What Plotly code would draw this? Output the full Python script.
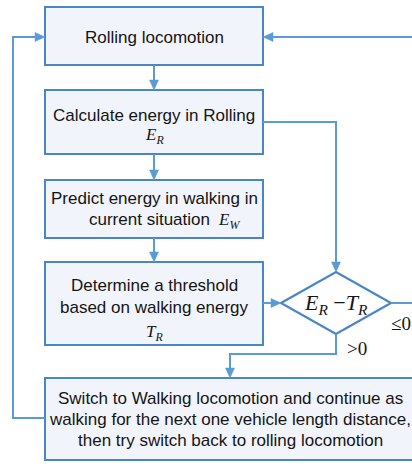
import plotly.graph_objects as go

W, H = 412, 464
LINE = "#5b9bd5"
BORDER = "#4a86c5"
FILL = "#f1f4fb"
SANS = "Liberation Sans, Arial, sans-serif"
SERIF = "Liberation Serif, Times New Roman, serif"

# Process boxes: (x0, y0, x1, y1)
box_rects = [
    (45, 7, 263, 65),
    (45, 90, 263, 154),
    (45, 180, 263, 238),
    (45, 262, 263, 345),
    (45, 378, 416, 460),
]
# Sans-serif text lines: (text, x, y)
sans_lines = [
    ("Rolling locomotion", 154, 37),
    ("Calculate energy in Rolling", 154, 115),
    ("Predict energy in walking in", 154, 198),
    ("current situation", 149, 219),
    ("Determine a threshold", 154, 285),
    ("based on walking energy", 154, 307),
    ("Switch to Walking locomotion and continue as", 230, 398),
    ("walking for the next one vehicle length distance,", 230, 419),
    ("then try switch back to rolling locomotion", 230, 440),
]
# Math symbols: (html, x, y, size, anchor)
math_labels = [
    ("<i>E</i><sub><i>R</i></sub>", 154, 136, 17, "center"),
    ("<i>E</i><sub><i>W</i></sub>", 229, 221, 17, "center"),
    ("<i>T</i><sub><i>R</i></sub>", 154, 333, 17, "center"),
    ("<i>E</i><sub><i>R</i></sub> \u2212<i>T</i><sub><i>R</i></sub>", 336, 304, 22, "center"),
    ("\u22640", 389, 323, 19, "left"),
    ("&gt;0", 345, 348, 19, "left"),
]
# Decision diamond: (cx, cy, half-width, half-height)
diamond = (336, 303, 55, 31)
# Connectors: polylines, arrow at last point if flag
connectors = [
    ([(154, 65), (154, 90)], True),
    ([(154, 154), (154, 180)], True),
    ([(154, 238), (154, 262)], True),
    ([(263, 122), (336, 122), (336, 272)], True),
    ([(263, 303), (281, 303)], True),
    ([(391, 303), (414, 303)], False),
    ([(414, 37), (263, 37)], True),
    ([(336, 334), (336, 354), (230, 354), (230, 378)], True),
    ([(45, 418), (13, 418), (13, 37), (45, 37)], True),
]

shapes = []
for x0, y0, x1, y1 in box_rects:
    shapes.append(dict(type="rect", x0=x0, y0=y0, x1=x1, y1=y1,
                       line=dict(color=BORDER, width=2), fillcolor=FILL, layer="below"))

cx, cy, hw, hh = diamond
shapes.append(dict(type="path",
                   path=f"M {cx-hw},{cy} L {cx},{cy-hh} L {cx+hw},{cy} L {cx},{cy+hh} Z",
                   line=dict(color=BORDER, width=2.2), fillcolor="white", layer="below"))

AL, AW = 10, 4.5
for pts, arrow in connectors:
    pts = list(pts)
    if arrow:
        (xa, ya), (xb, yb) = pts[-2], pts[-1]
        dx = (xb > xa) - (xb < xa)
        dy = (yb > ya) - (yb < ya)
        bx, by = xb - dx * AL, yb - dy * AL
        px, py = -dy * AW, dx * AW
        shapes.append(dict(type="path",
                           path=f"M {xb},{yb} L {bx+px},{by+py} L {bx-px},{by-py} Z",
                           line=dict(color=LINE, width=0.5), fillcolor=LINE))
        pts[-1] = (xb - dx * (AL - 1), yb - dy * (AL - 1))
    path = "M " + " L ".join(f"{x},{y}" for x, y in pts)
    shapes.append(dict(type="path", path=path, line=dict(color=LINE, width=2)))

annotations = []
for t, x, y in sans_lines:
    annotations.append(dict(text=t, x=x, y=y, xref="x", yref="y", showarrow=False,
                            font=dict(family=SANS, size=17, color="#151515"),
                            xanchor="center", yanchor="middle"))
for t, x, y, s, anc in math_labels:
    annotations.append(dict(text=t, x=x, y=y, xref="x", yref="y", showarrow=False,
                            font=dict(family=SERIF, size=s, color="#151515"),
                            xanchor=anc, yanchor="middle"))

fig = go.Figure()
fig.update_layout(
    width=W, height=H, margin=dict(l=0, r=0, t=0, b=0),
    paper_bgcolor="white", plot_bgcolor="white",
    xaxis=dict(range=[0, W], visible=False, fixedrange=True),
    yaxis=dict(range=[H, 0], visible=False, fixedrange=True),
    shapes=shapes, annotations=annotations, showlegend=False,
)
fig.write_html("out.html", config={"displayModeBar": False},
               post_script="document.body.style.margin='0px';document.body.style.overflow='hidden';")
